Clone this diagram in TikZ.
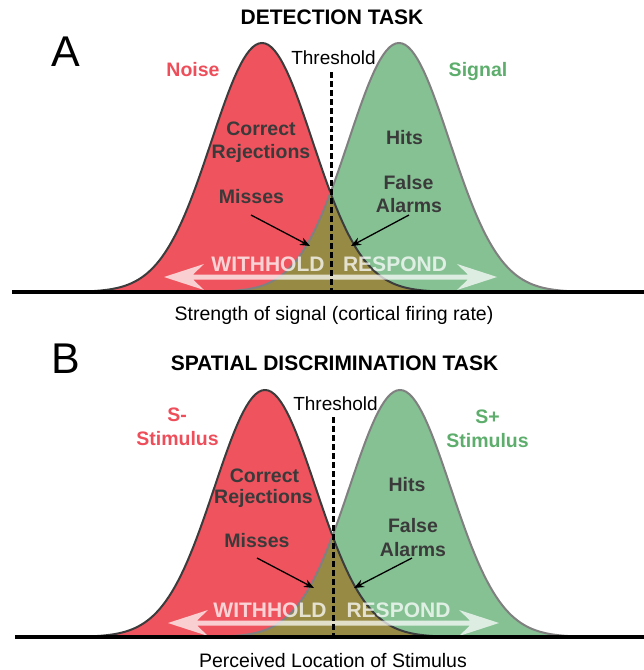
\documentclass[tikz,border=0pt]{standalone}
\usepackage{fontspec}
\setmainfont{Liberation Sans}
\usetikzlibrary{arrows.meta}
\definecolor{redfill}{RGB}{239,83,94}
\definecolor{greenfill}{RGB}{134,193,148}
\definecolor{olivefill}{RGB}{150,138,68}
\definecolor{redtext}{RGB}{238,78,90}
\definecolor{greentext}{RGB}{93,173,108}
\definecolor{labelgrey}{RGB}{58,58,58}
\definecolor{redline}{RGB}{60,60,60}
\definecolor{greenline}{RGB}{128,128,128}
\tikzset{
  lbl/.style={font=\bfseries\fontsize{19.5}{22}\selectfont, text=labelgrey, inner sep=0pt, anchor=base},
  rlbl/.style={lbl, text=redtext},
  glbl/.style={lbl, text=greentext},
  thr/.style={font=\fontsize{19}{22}\selectfont, inner sep=0pt, anchor=base},
  axl/.style={font=\fontsize{19.5}{22}\selectfont, inner sep=0pt, anchor=base},
  panl/.style={font=\fontsize{43}{46}\selectfont, inner sep=0pt, anchor=base},
  ttl/.style={font=\bfseries\fontsize{21}{24}\selectfont, inner sep=0pt, anchor=base},
  wrd/.style={font=\bfseries\fontsize{21}{24}\selectfont, text=white, text opacity=0.75, inner sep=0pt, anchor=base},
  ptr/.style={black, line width=1.3pt, -{Stealth[length=10pt,width=8pt]}},
  thrline/.style={black, line width=3pt, dash pattern=on 6pt off 3pt},
  axis/.style={black, line width=4pt},
  dblarrow/.style={fill=white, fill opacity=0.72}
}
% #1 red peak x, #2 green peak x, #3 baseline y, #4 amplitude, #5 sigma
\newcommand\gpanel[5]{%
  \pgfmathsetmacro\tcross{(#2-#1)/2/#5}%
  \fill[redfill] plot[domain=-4.3:4.3,samples=141] ({#1+#5*\x},{#3-#4*exp(-0.5*\x*\x)}) -- cycle;
  \fill[greenfill] plot[domain=-4.3:4.3,samples=141] ({#2+#5*\x},{#3-#4*exp(-0.5*\x*\x)}) -- cycle;
  \fill[olivefill] plot[domain=-4.3:-\tcross,samples=80] ({#2+#5*\x},{#3-#4*exp(-0.5*\x*\x)})
     -- plot[domain=\tcross:4.3,samples=80] ({#1+#5*\x},{#3-#4*exp(-0.5*\x*\x)}) -- cycle;
  \draw[redline,line width=2pt] plot[domain=-4.3:4.3,samples=141] ({#1+#5*\x},{#3-#4*exp(-0.5*\x*\x)});
  \draw[greenline,line width=2pt] plot[domain=-4.3:4.3,samples=141] ({#2+#5*\x},{#3-#4*exp(-0.5*\x*\x)});
}
% double arrow polygon: #1 left tip x, #2 right tip x, #3 y
\newcommand\dblarrow[3]{%
  \fill[dblarrow] (#1,#3) -- ++(40,-13) -- ++(-11,10.5) -- (#2-29,#3-2.5) -- (#2-40,#3-13) -- (#2,#3)
     -- (#2-40,#3+13) -- (#2-29,#3+2.5) -- (#1+29,#3+2.5) -- (#1+40,#3+13) -- cycle;
}
\begin{document}
\begin{tikzpicture}[x=1pt,y=-1pt]
\useasboundingbox (0,0) rectangle (644,670);

% ---------------- Panel A ----------------
\gpanel{262}{399}{292}{249}{50.5}
\dblarrow{164}{497}{277}
\node[wrd] (withA) at (268,271) {WITHHOLD};
\node[wrd] (respA) at (395,271) {RESPOND};
\draw[thrline] (331,72) -- (331,292);
\draw[axis] (12,292) -- (644,292);

\node[ttl] (titleA) at (332,24) {DETECTION TASK};
\node[panl] (letA) at (66,66) {A};
\node[rlbl] (noise) at (193,76) {Noise};
\node[glbl] (signal) at (478,76) {Signal};
\node[thr] (thrA) at (333.5,64) {Threshold};
\node[lbl] (corA) at (261,135) {Correct};
\node[lbl] (rejA) at (261,158) {Rejections};
\node[lbl] (hitsA) at (404.5,144) {Hits};
\node[lbl] (falseA) at (408.5,189) {False};
\node[lbl] (alarmA) at (409,212) {Alarms};
\node[lbl] (missA) at (251.5,203) {Misses};
\coordinate (missAs) at (251,215);
\coordinate (missAt) at (310,246);
\coordinate (faAs) at (409,215);
\coordinate (faAt) at (351,246);
\draw[ptr] (missAs) -- (missAt);
\draw[ptr] (faAs) -- (faAt);
\node[axl] (axA) at (334,320) {Strength of signal (cortical firing rate)};

% ---------------- Panel B ----------------
\gpanel{265}{400}{637}{247}{50.5}
\dblarrow{168}{499}{623}
\node[wrd] (withB) at (270,617) {WITHHOLD};
\node[wrd] (respB) at (398.5,617) {RESPOND};
\draw[thrline] (333,417) -- (333,637);
\draw[axis] (15,637) -- (644,637);

\node[ttl] (titleB) at (334.5,370) {SPATIAL DISCRIMINATION TASK};
\node[panl] (letB) at (66,373) {B};
\node[rlbl] (sminus) at (177,421) {S-};
\node[rlbl] (stimR) at (177.5,445) {Stimulus};
\node[glbl] (splus) at (487.5,423) {S+};
\node[glbl] (stimG) at (487.5,447) {Stimulus};
\node[thr] (thrB) at (335.5,410) {Threshold};
\node[lbl] (corB) at (264.5,482) {Correct};
\node[lbl] (rejB) at (263.5,503) {Rejections};
\node[lbl] (hitsB) at (407,491) {Hits};
\node[lbl] (falseB) at (413,532) {False};
\node[lbl] (alarmB) at (413,556) {Alarms};
\node[lbl] (missB) at (257,547) {Misses};
\coordinate (missBs) at (257,558);
\coordinate (missBt) at (314,588);
\coordinate (faBs) at (412,558);
\coordinate (faBt) at (354,588);
\draw[ptr] (missBs) -- (missBt);
\draw[ptr] (faBs) -- (faBt);
\node[axl] (axB) at (333,667) {Perceived Location of Stimulus};
\end{tikzpicture}
\end{document}
